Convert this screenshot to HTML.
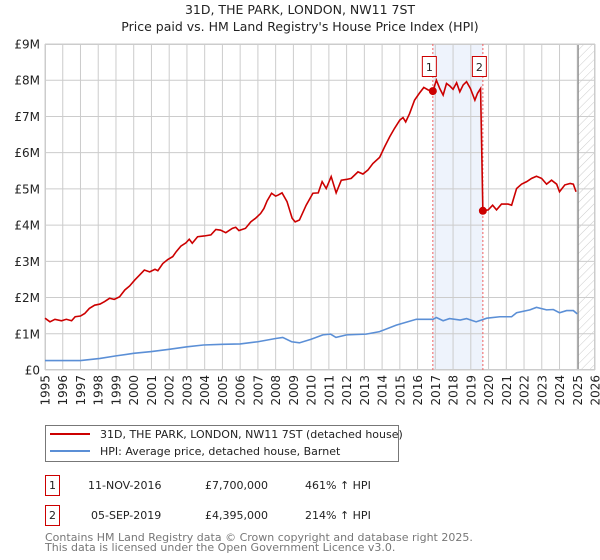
<!DOCTYPE html>
<html><head><meta charset="utf-8"><style>
body{margin:0;background:#fff;font-family:"Liberation Sans","DejaVu Sans",sans-serif;}
svg{display:block}
</style></head><body>
<svg id="chart" width="600" height="560" xmlns="http://www.w3.org/2000/svg" font-family="'DejaVu Sans','Liberation Sans',sans-serif">
<defs><pattern id="hatch" width="6" height="6" patternUnits="userSpaceOnUse" patternTransform="rotate(45)"><line x1="0" y1="0" x2="0" y2="6" stroke="#ccc" stroke-width="1"/></pattern></defs>
<text x="300" y="14" text-anchor="middle" font-size="12.5" fill="#222">31D, THE PARK, LONDON, NW11 7ST</text>
<text x="300" y="31" text-anchor="middle" font-size="12.5" fill="#222">Price paid vs. HM Land Registry's House Price Index (HPI)</text>
<g id="plot"></g>
<g>
<rect x="45.5" y="425.5" width="353" height="36" fill="#fff" stroke="#777"/>
<line x1="50" y1="434" x2="90" y2="434" stroke="#cc0000" stroke-width="2"/>
<text x="100" y="438" font-size="11" fill="#222">31D, THE PARK, LONDON, NW11 7ST (detached house)</text>
<line x1="50" y1="451" x2="90" y2="451" stroke="#5b8fd6" stroke-width="2"/>
<text x="100" y="455" font-size="11" fill="#222">HPI: Average price, detached house, Barnet</text>
</g>
<g font-size="11" fill="#222">
<rect x="45.5" y="475.5" width="14" height="20" fill="#fff" stroke="#cc0000"/>
<text x="52.5" y="489" text-anchor="middle">1</text>
<text x="88" y="489">11-NOV-2016</text>
<text x="205" y="489">£7,700,000</text>
<text x="305" y="489">461% ↑ HPI</text>
<rect x="45.5" y="505.5" width="14" height="20" fill="#fff" stroke="#cc0000"/>
<text x="52.5" y="519" text-anchor="middle">2</text>
<text x="91" y="519">05-SEP-2019</text>
<text x="205" y="519">£4,395,000</text>
<text x="305" y="519">214% ↑ HPI</text>
</g>
<text x="45" y="541" font-size="11" fill="#777">Contains HM Land Registry data © Crown copyright and database right 2025.</text>
<text x="45" y="551" font-size="11" fill="#777">This data is licensed under the Open Government Licence v3.0.</text>
</svg>
<script>
const redYears=[1995.0,1995.28,1995.56,1995.93,1996.2,1996.5,1996.7,1997.0,1997.24,1997.5,1997.8,1998.1,1998.36,1998.64,1998.9,1999.2,1999.5,1999.77,2000.05,2000.33,2000.6,2000.9,2001.2,2001.36,2001.64,2001.92,2002.2,2002.4,2002.66,2002.94,2003.13,2003.3,2003.6,2003.97,2004.35,2004.63,2004.9,2005.19,2005.56,2005.75,2005.93,2006.3,2006.6,2006.87,2007.15,2007.34,2007.52,2007.77,2008.0,2008.14,2008.36,2008.64,2008.93,2009.1,2009.34,2009.72,2010.1,2010.4,2010.62,2010.85,2011.13,2011.41,2011.7,2011.98,2012.26,2012.64,2012.92,2013.2,2013.48,2013.86,2014.14,2014.43,2014.7,2015.0,2015.18,2015.33,2015.55,2015.83,2016.1,2016.35,2016.6,2016.86,2017.06,2017.25,2017.44,2017.63,2017.82,2018.0,2018.2,2018.38,2018.57,2018.76,2018.98,2019.23,2019.38,2019.55,2019.68,2019.98,2020.23,2020.45,2020.73,2021.1,2021.3,2021.58,2021.86,2022.15,2022.43,2022.7,2022.99,2023.27,2023.55,2023.84,2024.0,2024.3,2024.6,2024.78,2024.93];
const redValues=[1.43,1.33,1.40,1.36,1.40,1.36,1.47,1.49,1.56,1.70,1.79,1.82,1.89,1.98,1.95,2.02,2.21,2.32,2.48,2.62,2.76,2.71,2.78,2.74,2.94,3.05,3.13,3.27,3.42,3.51,3.61,3.50,3.68,3.70,3.73,3.88,3.86,3.79,3.91,3.94,3.85,3.91,4.09,4.19,4.32,4.46,4.67,4.88,4.80,4.83,4.89,4.65,4.19,4.09,4.14,4.55,4.88,4.89,5.20,5.01,5.34,4.89,5.24,5.26,5.29,5.47,5.41,5.52,5.70,5.87,6.16,6.44,6.67,6.90,6.97,6.85,7.08,7.45,7.64,7.80,7.73,7.70,8.00,7.77,7.59,7.91,7.84,7.75,7.93,7.68,7.87,7.96,7.77,7.45,7.64,7.77,4.395,4.42,4.55,4.42,4.58,4.58,4.55,5.01,5.13,5.20,5.29,5.35,5.29,5.13,5.24,5.13,4.92,5.11,5.15,5.13,4.92];
const hpiYears=[1995.0,1997.0,1998.1,1999.0,2000.0,2001.0,2002.0,2003.0,2003.93,2005.0,2006.0,2007.0,2008.0,2008.4,2008.9,2009.34,2010.0,2010.66,2011.1,2011.4,2012.0,2013.1,2013.86,2014.8,2015.93,2016.87,2017.06,2017.44,2017.8,2018.4,2018.76,2019.3,2019.9,2020.64,2021.3,2021.58,2022.33,2022.7,2023.27,2023.65,2024.0,2024.4,2024.78,2025.0];
const hpiValues=[0.26,0.26,0.32,0.39,0.46,0.51,0.57,0.64,0.69,0.71,0.72,0.78,0.87,0.90,0.78,0.75,0.85,0.97,0.99,0.90,0.97,0.99,1.06,1.24,1.40,1.40,1.45,1.36,1.42,1.38,1.42,1.33,1.43,1.47,1.47,1.58,1.66,1.73,1.66,1.67,1.58,1.64,1.64,1.55];
const saleYears=[2016.86,2019.68];
const saleValues=[7.7,4.395];
const saleLabels=["1","2"];
const yTicks=[0,1,2,3,4,5,6,7,8,9];
const yTickLabels=["£0","£1M","£2M","£3M","£4M","£5M","£6M","£7M","£8M","£9M"];
const xTicks=[1995,1996,1997,1998,1999,2000,2001,2002,2003,2004,2005,2006,2007,2008,2009,2010,2011,2012,2013,2014,2015,2016,2017,2018,2019,2020,2021,2022,2023,2024,2025,2026];

const X0=45,X1=595,Y0=370,Y1=44;
const xs=y=>X0+(y-1995)/(2026-1995)*(X1-X0);
const ys=v=>Y0-v/9*(Y0-Y1);
const NS="http://www.w3.org/2000/svg";
const g=document.getElementById('plot');
function mk(t,a,p){const e=document.createElementNS(NS,t);for(const k in a)e.setAttribute(k,a[k]);(p||g).appendChild(e);return e;}
let band=mk('rect',{x:xs(saleYears[0]),y:Y1,width:xs(saleYears[1])-xs(saleYears[0]),height:Y0-Y1,fill:'#eef3fc'});


let hx=xs(2025.05);
let hatch=mk('rect',{x:hx,y:Y1,width:X1-hx,height:Y0-Y1,fill:'url(#hatch)'});


yTicks.forEach((v,i)=>{
 mk('line',{x1:X0,x2:X1,y1:ys(v),y2:ys(v),stroke:'#ccc','stroke-width':1});
 let t=mk('text',{x:40,y:ys(v)+4.5,'text-anchor':'end','font-size':'12',fill:'#222'});
 t.textContent=yTickLabels[i];
 
 
});
xTicks.forEach(yr=>{
 mk('line',{x1:xs(yr),x2:xs(yr),y1:Y1,y2:Y0,stroke:'#ccc','stroke-width':1});
 let t=mk('text',{x:0,y:0,'text-anchor':'end','font-size':'12',fill:'#222',transform:`translate(${xs(yr)+4.5},${Y0+5}) rotate(-90)`});
 t.textContent=yr;
 
 
});
mk('line',{x1:hx,x2:hx,y1:Y1,y2:Y0,stroke:'#888','stroke-width':1.2});
mk('rect',{x:X0+0.5,y:Y1+0.5,width:X1-X0-1,height:Y0-Y1-1,fill:'none',stroke:'#ccc'});
saleYears.forEach(yr=>{mk('line',{x1:xs(yr),x2:xs(yr),y1:Y1,y2:Y0,stroke:'#f06060','stroke-width':1,'stroke-dasharray':'2,2'});});
let hp=mk('polyline',{points:hpiYears.map((y,i)=>xs(y)+','+ys(hpiValues[i])).join(' '),fill:'none',stroke:'#5b8fd6','stroke-width':1.6});


let rp=mk('polyline',{points:redYears.map((y,i)=>xs(y)+','+ys(redValues[i])).join(' '),fill:'none',stroke:'#cc0000','stroke-width':1.6});


saleYears.forEach((yr,i)=>{
 let c=mk('circle',{cx:xs(yr),cy:ys(saleValues[i]),r:4,fill:'#cc0000'});
 
 
 let b=mk('rect',{x:xs(yr)-10.5,y:56.5,width:14,height:20,fill:'#fff',stroke:'#cc0000'});
 
 
 let t=mk('text',{x:xs(yr)-3.5,y:71,'text-anchor':'middle','font-size':'11',fill:'#222'});
 t.textContent=saleLabels[i];
 
 
});
</script>
</body></html>
